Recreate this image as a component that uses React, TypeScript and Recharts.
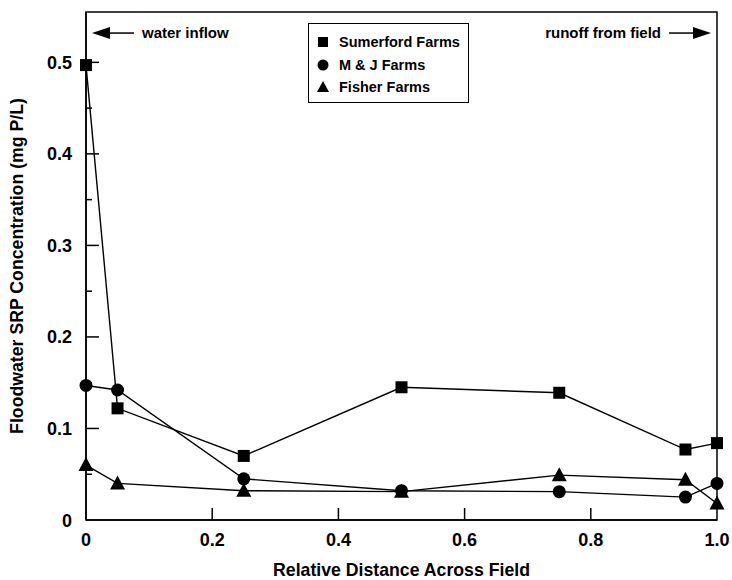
import React from 'react';
import { LineChart, Line, XAxis, YAxis, Legend, ReferenceArea, ReferenceDot } from 'recharts';

const distances = [0, 0.05, 0.25, 0.5, 0.75, 0.95, 1.0];
const sumerford = [0.497, 0.122, 0.07, 0.145, 0.139, 0.077, 0.084];
const mjFarms = [0.147, 0.142, 0.045, 0.032, 0.031, 0.025, 0.04];
const fisher = [0.06, 0.04, 0.032, 0.031, 0.049, 0.044, 0.018];

const seriesNames = ['Sumerford Farms', 'M & J Farms', 'Fisher Farms'];
const xTicks = [0, 0.2, 0.4, 0.6, 0.8, 1.0];
const yTicks = [0, 0.05, 0.1, 0.15, 0.2, 0.25, 0.3, 0.35, 0.4, 0.45, 0.5];

const data = distances.map((d, i) => ({
  x: d,
  sumerford: sumerford[i],
  mj: mjFarms[i],
  fisher: fisher[i],
}));

const FONT = '"Liberation Sans", Arial, sans-serif';

const square = (p: any) => (
  <rect key={p.key} x={p.cx - 6} y={p.cy - 6} width={12} height={12} fill="#000" />
);
const circle = (p: any) => <circle key={p.key} cx={p.cx} cy={p.cy} r={6.5} fill="#000" />;
const triangle = (p: any) => (
  <polygon
    key={p.key}
    points={`${p.cx},${p.cy - 8} ${p.cx - 7.5},${p.cy + 6} ${p.cx + 7.5},${p.cy + 6}`}
    fill="#000"
  />
);

const YTick = (props: any) => {
  const { x, y, payload } = props;
  const v = payload.value;
  const major = Math.abs(v * 10 - Math.round(v * 10)) < 1e-6;
  return (
    <g>
      {v > 0 && <line x1={x} y1={y} x2={x + (major ? 13 : 6)} y2={y} stroke="#000" strokeWidth={1.5} />}
      {major && (
        <text x={x - 14} y={y + 6.5} textAnchor="end" fontFamily={FONT} fontWeight="bold" fontSize={18} fill="#000">
          {v === 0 ? '0' : v.toFixed(1)}
        </text>
      )}
    </g>
  );
};

const XTick = (props: any) => {
  const { x, y, payload } = props;
  const v = payload.value;
  return (
    <g>
      {v > 0 && v < 1 && <line x1={x} y1={y} x2={x} y2={y - 12} stroke="#000" strokeWidth={1.5} />}
      <text x={x} y={y + 26} textAnchor="middle" fontFamily={FONT} fontWeight="bold" fontSize={18} fill="#000">
        {v === 0 ? '0' : v.toFixed(1)}
      </text>
    </g>
  );
};

const LegendBox = () => {
  const shapes = [
    <rect x={3} y={-5} width={10} height={10} fill="#000" />,
    <circle cx={8} cy={0} r={5.5} fill="#000" />,
    <polygon points="8,-6 2,5 14,5" fill="#000" />,
  ];
  return (
    <div
      style={{
        border: '1.5px solid #000',
        width: 161,
        height: 80,
        background: '#fff',
        boxSizing: 'border-box',
        padding: '7px 0 0 6px',
      }}
    >
      {seriesNames.map((n, i) => (
        <div
          key={n}
          style={{
            display: 'flex',
            alignItems: 'center',
            height: 22.5,
            whiteSpace: 'nowrap',
            fontFamily: FONT,
            fontWeight: 'bold',
            fontSize: 14.5,
          }}
        >
          <svg width={16} height={14} style={{ marginRight: 8 }}>
            <g transform="translate(0,7)">{shapes[i]}</g>
          </svg>
          {n}
        </div>
      ))}
    </div>
  );
};

const LeftArrow = (p: any) => (
  <g>
    <polygon points={`${p.cx + 6},${p.cy} ${p.cx + 24},${p.cy - 6} ${p.cx + 24},${p.cy + 6}`} fill="#000" />
    <line x1={p.cx + 20} y1={p.cy} x2={p.cx + 48} y2={p.cy} stroke="#000" strokeWidth={1.5} />
    <text x={p.cx + 56} y={p.cy + 5} fontFamily={FONT} fontWeight="bold" fontSize={15} fill="#000">
      water inflow
    </text>
  </g>
);

const RightArrow = (p: any) => (
  <g>
    <polygon points={`${p.cx - 6},${p.cy} ${p.cx - 24},${p.cy - 6} ${p.cx - 24},${p.cy + 6}`} fill="#000" />
    <line x1={p.cx - 20} y1={p.cy} x2={p.cx - 48} y2={p.cy} stroke="#000" strokeWidth={1.5} />
    <text x={p.cx - 56} y={p.cy + 5} textAnchor="end" fontFamily={FONT} fontWeight="bold" fontSize={15} fill="#000">
      runoff from field
    </text>
  </g>
);

export default function App() {
  return (
    <div style={{ position: 'fixed', left: 0, top: 0, width: 732, height: 580, background: '#fff' }}>
      <LineChart width={732} height={580} data={data} margin={{ top: 12, right: 15, left: 36, bottom: 10 }}>
        <ReferenceArea x1={0} x2={1} y1={0} y2={0.555} fill="none" stroke="#000" strokeWidth={1.5} ifOverflow="visible" />
        <XAxis
          dataKey="x"
          type="number"
          domain={[0, 1]}
          ticks={xTicks}
          tick={<XTick />}
          tickLine={false}
          tickSize={0}
          tickMargin={0}
          height={50}
          axisLine={{ stroke: '#000', strokeWidth: 1.5 }}
          label={{
            value: 'Relative Distance Across Field',
            position: 'insideBottom',
            offset: -6,
            fontFamily: FONT,
            fontWeight: 'bold',
            fontSize: 17.7,
            fill: '#000',
          }}
        />
        <YAxis
          type="number"
          domain={[0, 0.555]}
          ticks={yTicks}
          tick={<YTick />}
          tickLine={false}
          tickSize={0}
          tickMargin={0}
          width={50}
          axisLine={{ stroke: '#000', strokeWidth: 1.5 }}
          label={{
            value: 'Floodwater SRP Concentration (mg P/L)',
            angle: -90,
            position: 'insideLeft',
            offset: -19,
            style: { textAnchor: 'middle' },
            fontFamily: FONT,
            fontWeight: 'bold',
            fontSize: 17.7,
            fill: '#000',
          }}
        />
        <Legend
          layout="vertical"
          align="center"
          verticalAlign="middle"
          content={<LegendBox />}
          wrapperStyle={{ left: 308, top: 23, width: 161 }}
        />
        <ReferenceDot x={0} y={0.532} r={0} shape={LeftArrow} ifOverflow="visible" />
        <ReferenceDot x={1} y={0.532} r={0} shape={RightArrow} ifOverflow="visible" />
        <Line dataKey="sumerford" name={seriesNames[0]} stroke="#000" strokeWidth={1.4} dot={square} isAnimationActive={false} />
        <Line dataKey="mj" name={seriesNames[1]} stroke="#000" strokeWidth={1.4} dot={circle} isAnimationActive={false} />
        <Line dataKey="fisher" name={seriesNames[2]} stroke="#000" strokeWidth={1.4} dot={triangle} isAnimationActive={false} />
      </LineChart>
    </div>
  );
}
